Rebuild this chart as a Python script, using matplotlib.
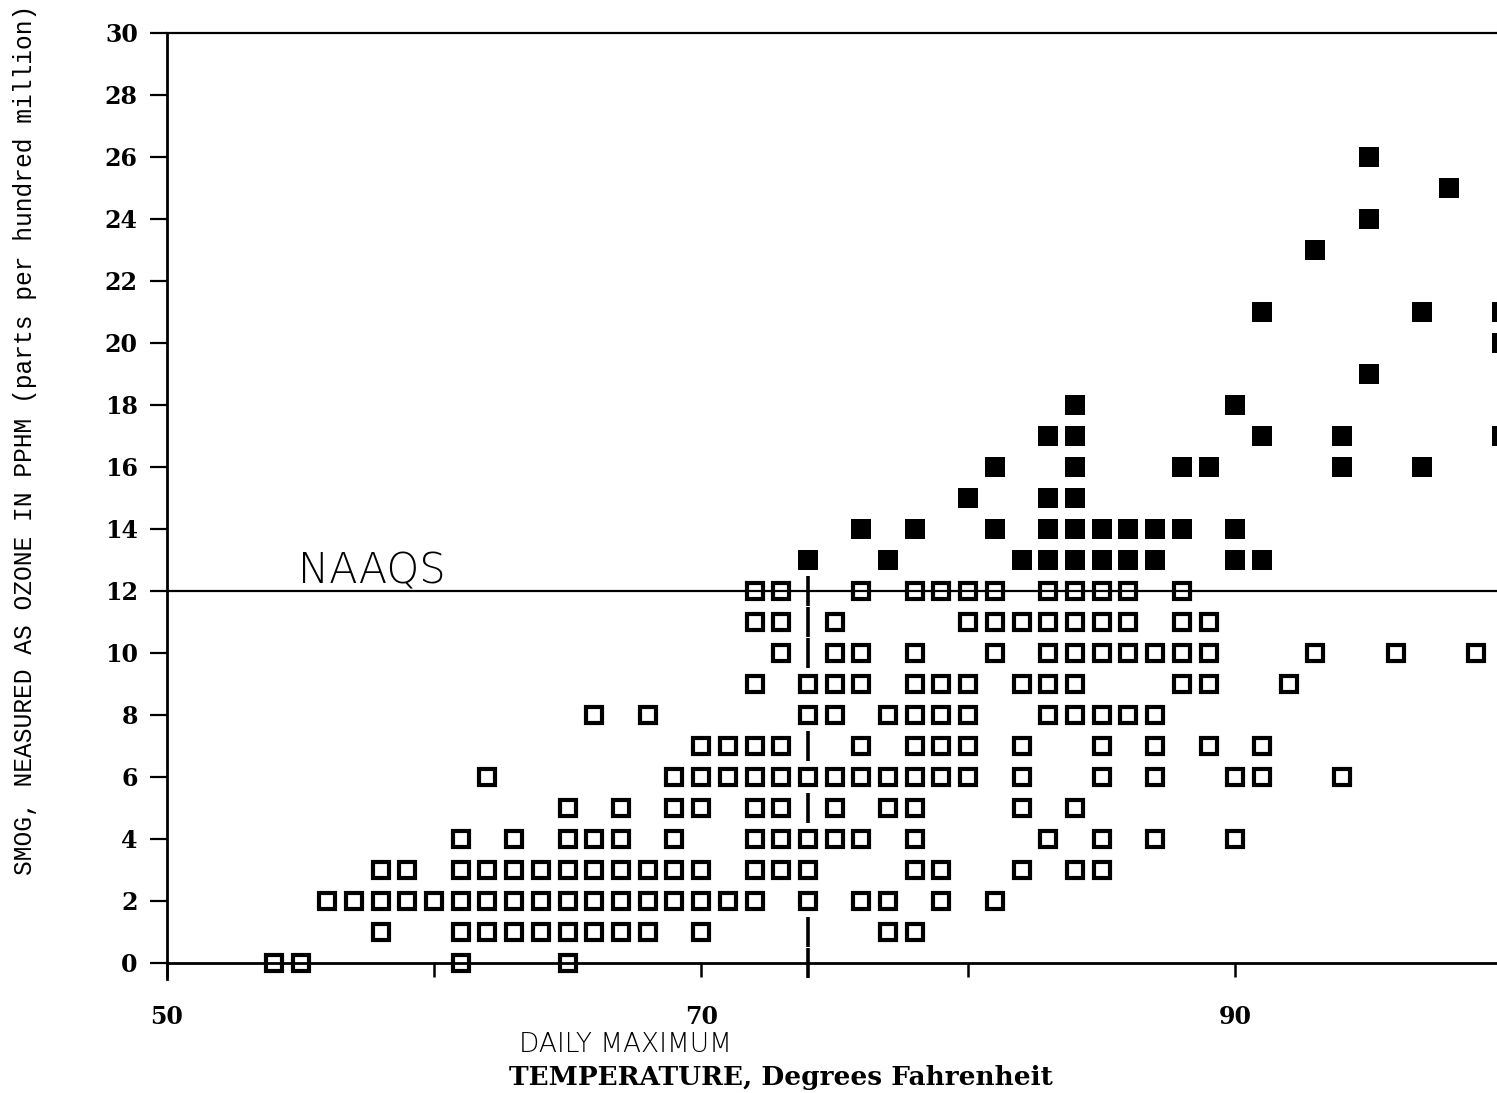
import matplotlib
matplotlib.use('Agg')
from matplotlib import pyplot as plt

# ozone level (pphm) -> daily maximum temperatures (F) with that reading
open_levels = [0, 1, 2, 3, 4, 5, 6, 7, 8, 9, 10, 11, 12]
open_temps = [
    [54, 55, 61, 65],
    [58, 61, 62, 63, 64, 65, 66, 67, 68, 70, 77, 78],
    [56, 57, 58, 59, 60, 61, 62, 63, 64, 65, 66, 67, 68, 69, 70, 71, 72, 74, 76, 77, 79, 81],
    [58, 59, 61, 62, 63, 64, 65, 66, 67, 68, 69, 70, 72, 73, 74, 78, 79, 82, 84, 85],
    [61, 63, 65, 66, 67, 69, 72, 73, 74, 75, 76, 78, 83, 85, 87, 90],
    [65, 67, 69, 70, 72, 73, 75, 77, 78, 82, 84],
    [62, 69, 70, 71, 72, 73, 74, 75, 76, 77, 78, 79, 80, 82, 85, 87, 90, 91, 94],
    [70, 71, 72, 73, 76, 78, 79, 80, 82, 85, 87, 89, 91],
    [66, 68, 74, 75, 77, 78, 79, 80, 83, 84, 85, 86, 87],
    [72, 74, 75, 76, 78, 79, 80, 82, 83, 84, 88, 89, 92],
    [73, 75, 76, 78, 81, 83, 84, 85, 86, 87, 88, 89, 93, 96, 99],
    [72, 73, 75, 80, 81, 82, 83, 84, 85, 86, 88, 89],
    [72, 73, 76, 78, 79, 80, 81, 83, 84, 85, 86, 88],
]

# readings above the standard
over_levels = [13, 14, 15, 16, 17, 18, 19, 20, 21, 23, 24, 25, 26]
over_temps = [
    [74, 77, 82, 83, 84, 85, 86, 87, 90, 91],
    [76, 78, 81, 83, 84, 85, 86, 87, 88, 90],
    [80, 83, 84],
    [81, 84, 88, 89, 94, 97],
    [83, 84, 91, 94, 100],
    [84, 90],
    [95],
    [100],
    [91, 97, 100],
    [93],
    [95],
    [98],
    [95],
]

naaqs = 12
divider_temp = 74
divider_levels = [12, 11, 10, 7, 5, 1, 0]

y_ticks = list(range(0, 31, 2))
x_ticks = [50, 60, 70, 80, 90]
x_labels = ['50', '', '70', '', '90']

W, H = 1497, 1093
fig = plt.figure(figsize=(W / 100, H / 100), dpi=100)
ax = fig.add_axes([167 / W, 1 - 978.5 / H, 1 - 167 / W, 945.5 / H])

ox, oy = [], []
for lev, temps in zip(open_levels, open_temps):
    for t in temps:
        ox.append(t)
        oy.append(lev)
fx, fy = [], []
for lev, temps in zip(over_levels, over_temps):
    for t in temps:
        fx.append(t)
        fy.append(lev)

ax.axhline(naaqs, color='black', lw=1.6, zorder=1)
ax.plot([divider_temp] * len(divider_levels), divider_levels, ls='none',
        marker='|', ms=21, mew=2.6, color='black', clip_on=False, zorder=2)
ax.plot(ox, oy, ls='none', marker='s', ms=12, mew=3.0,
        mfc='none', mec='black', clip_on=False, zorder=3)
ax.plot(fx, fy, ls='none', marker='s', ms=14.5, mew=0,
        color='black', zorder=3)

ax.set_xlim(50, 99.8)
ax.set_ylim(-0.5, 30)
ax.spines['right'].set_visible(False)
ax.spines['bottom'].set_position(('data', 0))
for s in ['left', 'bottom', 'top']:
    ax.spines[s].set_linewidth(2.0)
ax.spines['top'].set_linewidth(1.6)

tick_font = dict(fontfamily='DejaVu Serif', fontweight='heavy', fontsize=17)
ax.set_yticks(y_ticks)
ax.set_yticklabels([str(v) for v in y_ticks], **tick_font)
ax.set_xticks(x_ticks)
ax.set_xticklabels(x_labels, **tick_font)
ax.tick_params(axis='y', direction='out', length=12, width=1.6, pad=9)
ax.tick_params(axis='x', direction='out', length=10, width=1.8, pad=20)

ax.text(54.9, 12.25, 'NAAQS', fontsize=30, fontfamily='DejaVu Sans',
        fontweight='light', ha='left', va='baseline')

fig.text(25 / W, 1 - 440 / H,
         'SMOG, NEASURED AS OZONE IN PPHM (parts per hundred million)',
         rotation=90, ha='center', va='center', fontsize=17.7,
         fontfamily='Liberation Mono')
fig.text(625 / W, 1 - 1045 / H, 'DAILY MAXIMUM', ha='center', va='center',
         fontsize=19, fontfamily='DejaVu Sans', fontweight='light')
fig.text(781 / W, 1 - 1077 / H, 'TEMPERATURE, Degrees Fahrenheit', ha='center',
         va='center', fontsize=19, fontfamily='DejaVu Serif', fontweight='bold')

fig.savefig('out.png', dpi=100)
